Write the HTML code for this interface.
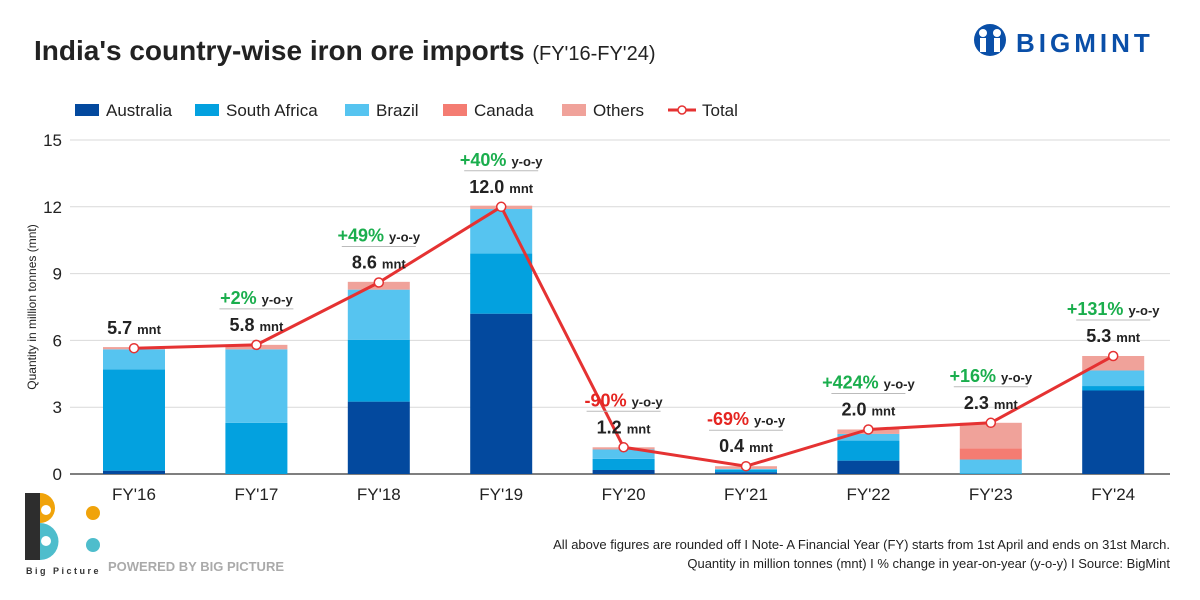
<!DOCTYPE html>
<html><head><meta charset="utf-8"><style>
body{margin:0;width:1200px;height:600px;background:#fff;font-family:"Liberation Sans",sans-serif;overflow:hidden;position:relative}
svg{position:absolute;left:0;top:0}
</style></head><body>
<svg id="c" width="1200" height="600"></svg>
<script>
const categories=["FY'16","FY'17","FY'18","FY'19","FY'20","FY'21","FY'22","FY'23","FY'24"];
const australia=[0.15,0,3.25,7.2,0.18,0.08,0.6,0,3.75];
const southAfrica=[4.55,2.3,2.78,2.7,0.5,0.1,0.9,0.03,0.2];
const brazil=[0.9,3.3,2.25,2.0,0.42,0.05,0.3,0.62,0.7];
const canada=[0,0,0,0,0,0,0,0.5,0];
const others=[0.1,0.2,0.35,0.15,0.1,0.12,0.2,1.15,0.65];
const totals=[5.65,5.8,8.6,12.0,1.2,0.35,2.0,2.3,5.3];
const totalLabels=["5.7","5.8","8.6","12.0","1.2","0.4","2.0","2.3","5.3"];
const yoyLabels=[null,"+2%","+49%","+40%","-90%","-69%","+424%","+16%","+131%"];
const yTicks=[0,3,6,9,12,15];
const seriesNames=["Australia","South Africa","Brazil","Canada","Others"];
const colors=["#03499e","#03a1df","#56c4f0","#f47c72","#f0a29a"];
const NS="http://www.w3.org/2000/svg";
const svg=document.getElementById('c');
function el(t,a,p){const e=document.createElementNS(NS,t);for(const k in a)e.setAttribute(k,a[k]);(p||svg).appendChild(e);return e;}
const y0=474,yTop=140,xL=70,xR=1170,step=122.4,x0=134,bw=62;
const y=v=>y0-(v/15)*(y0-yTop);
const x=i=>x0+i*step;
let t=el('text',{x:34,y:60,'font-size':28,'font-weight':'bold',fill:'#222'});

t.innerHTML="India's country-wise iron ore imports <tspan font-size='20' font-weight='normal'>(FY'16-FY'24)</tspan>";
let lg=el('g',{});
el('circle',{cx:990,cy:40,r:16,fill:'#0a4fa8'},lg);
el('circle',{cx:983,cy:33,r:4,fill:'#fff'},lg);el('circle',{cx:997,cy:33,r:4,fill:'#fff'},lg);
el('rect',{x:980,y:38,width:6,height:14,fill:'#fff'},lg);el('rect',{x:994,y:38,width:6,height:14,fill:'#fff'},lg);
let lt=el('text',{x:1016,y:52,'font-size':26,'font-weight':'bold',fill:'#0a4fa8','letter-spacing':'4'},lg);lt.textContent='BIGMINT';
const legX=[75,195,345,443,562];
seriesNames.forEach((n,i)=>{
 const g=el('g',{});
 el('rect',{x:legX[i],y:104,width:24,height:12,fill:colors[i]},g);
 const tx=el('text',{x:legX[i]+31,y:116,'font-size':17,fill:'#222'},g);tx.textContent=n;
});
{const g=el('g',{});
el('line',{x1:668,x2:696,y1:110,y2:110,stroke:'#e53232','stroke-width':3},g);
el('circle',{cx:682,cy:110,r:4,fill:'#fff',stroke:'#e53232','stroke-width':1.5},g);
const tx=el('text',{x:702,y:116,'font-size':17,fill:'#222'},g);tx.textContent='Total';}
yTicks.forEach(v=>{
 const gl=el('line',{x1:xL,x2:xR,y1:y(v),y2:y(v),stroke:v===0?'#555':'#d9d9d9','stroke-width':v===0?1.5:1});
 
 const tx=el('text',{x:62,y:y(v)+6,'font-size':17,'text-anchor':'end',fill:'#222'});tx.textContent=v;
 
});
let yt=el('text',{transform:'translate(36,307) rotate(-90)','font-size':12,'text-anchor':'middle',fill:'#222'});
yt.textContent='Quantity in million tonnes (mnt)';
const series=[australia,southAfrica,brazil,canada,others];
categories.forEach((c,i)=>{
 let acc=0;
 series.forEach((s,k)=>{
  const v=s[i];if(v<=0){return;}
  const r=el('rect',{x:x(i)-bw/2,y:y(acc+v),width:bw,height:y(acc)-y(acc+v),fill:colors[k]});
  
  
  acc+=v;
 });
 const tx=el('text',{x:x(i),y:500,'font-size':17,'text-anchor':'middle',fill:'#222'});tx.textContent=c;
 
});
const pl=el('polyline',{points:totals.map((v,i)=>x(i)+','+y(v)).join(' '),fill:'none',stroke:'#e53232','stroke-width':3});

totals.forEach((v,i)=>{
 const p=el('circle',{cx:x(i),cy:y(v),r:4.5,fill:'#fff',stroke:'#e53232','stroke-width':1.5});
 
 const py=y(v);
 const vt=el('text',{x:x(i),y:py-14,'font-size':18,'font-weight':'bold','text-anchor':'middle',fill:'#222'});
 vt.innerHTML=totalLabels[i]+" <tspan font-size='13'>mnt</tspan>";
 
 if(yoyLabels[i]){
  const ln=el('line',{x1:x(i)-37,x2:x(i)+37,y1:py-36,y2:py-36,stroke:'#bbb','stroke-width':1});
  
  const col=yoyLabels[i][0]==='-'?'#e52521':'#1aae4d';
  const yt2=el('text',{x:x(i),y:py-41,'font-size':18,'font-weight':'bold','text-anchor':'middle',fill:col});
  yt2.innerHTML=yoyLabels[i]+" <tspan font-size='13' fill='#222'>y-o-y</tspan>";
  
 }
});
const bp=el('g',{});
el('path',{d:'M40,493 A15,15 0 0 1 40,523 Z',fill:'#f0a30a'},bp);
el('path',{d:'M40,523 A17,17 0 0 1 40,560 Z',fill:'#4ebdcc'},bp);
el('rect',{x:25,y:493,width:15,height:67,fill:'#2d2d2d'},bp);
el('circle',{cx:46,cy:510,r:5,fill:'#fff'},bp);el('circle',{cx:46,cy:541,r:5,fill:'#fff'},bp);
el('circle',{cx:93,cy:513,r:7,fill:'#f0a30a'},bp);el('circle',{cx:93,cy:545,r:7,fill:'#4ebdcc'},bp);
const bt=el('text',{x:26,y:574,'font-size':9,'font-weight':'bold',fill:'#333','letter-spacing':'2.5'},bp);bt.textContent='Big Picture';
const pw=el('text',{x:108,y:571,'font-size':13,'font-weight':'bold',fill:'#aaa'});pw.textContent='POWERED BY BIG PICTURE';

const n1=el('text',{x:1170,y:549,'font-size':13,'text-anchor':'end',fill:'#222'});
n1.textContent='All above figures are rounded off  I  Note- A Financial Year (FY) starts from 1st April and ends on 31st March.';

const n2=el('text',{x:1170,y:568,'font-size':13,'text-anchor':'end',fill:'#222'});
n2.textContent='Quantity in million tonnes (mnt)  I  % change in year-on-year (y-o-y)  I  Source: BigMint';

</script>
</body></html>
